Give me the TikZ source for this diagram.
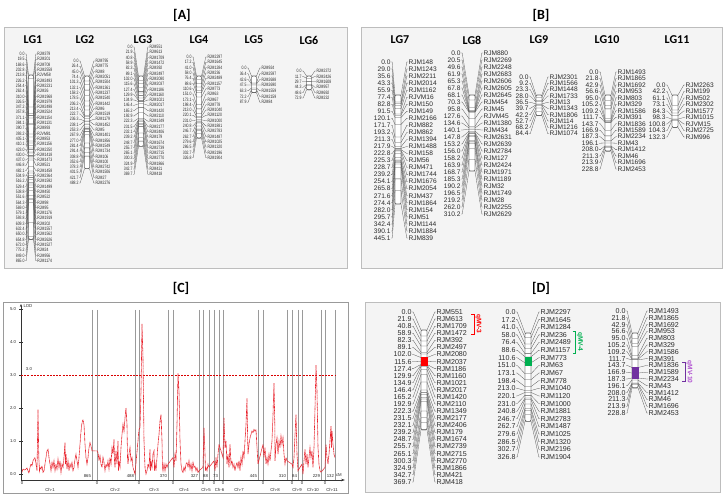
\documentclass[tikz,border=0pt]{standalone}
\usepackage{fontspec}
\setmainfont{Liberation Sans}
\newfontfamily\titlefont{Carlito}
\usetikzlibrary{arrows.meta}
\definecolor{panelbg}{HTML}{F4F4F4}
\definecolor{panelbd}{HTML}{BDBDBD}
\definecolor{fangray}{HTML}{505050}
\definecolor{bargray}{HTML}{606060}
\definecolor{labcol}{HTML}{2A2A2A}
\definecolor{lodred}{HTML}{E8202A}
\definecolor{sepgray}{HTML}{9A9A9A}
\definecolor{qtlred}{HTML}{FF0000}
\definecolor{qtlgreen}{HTML}{00B050}
\definecolor{qtlpurple}{HTML}{7030A0}
\definecolor{qtlpurpletxt}{HTML}{B050D0}
\tikzset{
  panel/.style={draw=panelbd, fill=panelbg, line width=0.8pt},
  ptitle/.style={font=\titlefont\bfseries\fontsize{14}{16}\selectfont, inner sep=0pt},
  lgtitle/.style={font=\titlefont\bfseries\fontsize{12}{14}\selectfont, inner sep=0pt},
  lab/.style={inner sep=0.3pt, text=labcol},
  barbox/.style={draw=bargray, fill=white, line width=0.4pt, rounded corners=1.2pt},
  fan/.style={draw=fangray, line width=0.28pt},
  ctext/.style={inner sep=0.3pt, text=labcol, font=\fontsize{4.3}{5}\selectfont},
  sepline/.style={draw=sepgray, line width=0.6pt},
  lodcurve/.style={draw=lodred, line width=0.6pt, dash pattern=on 0.8pt off 0.4pt},
  thresh/.style={draw=red!85!black, line width=0.6pt, dash pattern=on 2pt off 1.2pt},
  axisline/.style={draw=black!80, line width=0.5pt},
  qtlbr/.style={line width=0.6pt},
  qtltxt/.style={inner sep=0pt, rotate=-90, font=\fontsize{6.5}{7}\selectfont\bfseries}
}
% #1 prefix, #2 x of number right edge, #3 bar centre, #4 marker left edge,
% #5 first row y, #6 row step, #7 bar top, #8 px per cM, #9 list macro
\newcommand\lgmap[9]{%
  \draw[barbox] (#3-\bw,#7) rectangle (#3+\bw,#7+\bmax*#8);
  \foreach \vv/\mm [count=\ii from 0] in #9 {%
    \pgfmathsetmacro\yl{#5+\ii*#6}%
    \pgfmathsetmacro\yb{#7+\vv*#8}%
    \node[lab,anchor=east] (#1n\ii) at (#2,\yl) {\labfont\labtxt{\vv}};
    \node[lab,anchor=west] (#1m\ii) at (#4,\yl) {\labfont\labtxt{\mm}};
    \draw[fan] (#1n\ii.east) -- ++(1.2,0) -- (#3-\bw,\yb) -- (#3+\bw,\yb) -- ([xshift=-1.2pt]#1m\ii.west) -- (#1m\ii.west);
  }%
  \draw[draw=bargray, line width=0.4pt, rounded corners=1.2pt] (#3-\bw,#7) rectangle (#3+\bw,#7+\bmax*#8);
}
\def\listLGi{0.0/RJM379,19.5/RJM201,168.6/RJM708,202.8/RJM2558,213.8/RJVM58,226.2/RJM2493,254.4/RJM2231,262.4/RJM26,310.0/RJM1968,326.5/RJM1979,347.2/RJM2498,357.8/RJM2524,371.1/RJM1154,384.1/RJM1131,390.7/RJM893,393.2/RJVM81,405.1/RJM853,410.1/RJM1156,423.0/RJM2250,430.0/RJM1418,437.0/RJM1473,446.8/RJM521,482.1/RJM1458,504.9/RJM2364,516.2/RJM1592,529.4/RJM1499,538.8/RJM450,551.6/RJM522,564.3/RJM98,569.0/RJM95,579.1/RJM1176,593.8/RJM1919,609.3/RJM202,632.4/RJM1557,650.0/RJM1562,654.8/RJM2626,672.0/RJM1527,775.2/RJM24,849.0/RJM956,865.0/RJM1174}
\def\listLGii{0.0/RJM795,26.4/RJM775,45.0/RJM8,74.4/RJM2051,101.3/RJM1504,132.1/RJM1361,158.2/RJM1237,178.5/RJM1540,206.2/RJM1442,213.4/RJM6,222.7/RJM1519,236.3/RJM1179,238.1/RJM1452,253.3/RJM5,267.9/RJM1401,277.0/RJM1856,281.4/RJM1549,291.4/RJM1734,308.8/RJM106,352.6/RJM100,378.3/RJM2742,401.5/RJM1506,421.7/RJM27,488.2/RJM2276}
\def\listLGiii{0.0/RJM551,21.9/RJM613,40.8/RJM1709,58.9/RJM1472,82.3/RJM392,89.1/RJM2497,102.0/RJM2080,115.6/RJM2037,127.4/RJM1186,129.9/RJM1160,134.9/RJM1021,146.4/RJM2017,165.2/RJM1420,192.9/RJM2110,222.3/RJM1349,231.5/RJM2177,232.1/RJM2406,239.2/RJM179,248.7/RJM1674,255.7/RJM2739,265.1/RJM2715,300.3/RJM2770,324.9/RJM1866,342.7/RJM421,369.7/RJM418}
\def\listLGiv{0.0/RJM2297,17.2/RJM1645,41.0/RJM1284,58.0/RJM236,76.4/RJM2489,88.6/RJM1157,110.6/RJM773,151.0/RJM63,173.1/RJM67,198.4/RJM778,213.0/RJM1040,220.1/RJM1120,231.0/RJM1000,240.8/RJM1881,246.7/RJM2783,262.7/RJM1487,279.6/RJM1025,286.5/RJM1320,302.7/RJM2196,326.8/RJM1904}
\def\listLGv{0.0/RJM924,36.4/RJM2597,42.6/RJM2688,47.5/RJM2690,63.3/RJM1559,72.2/RJM2159,87.9/RJM84}
\def\listLGvi{0.0/RJM2372,11.7/RJM2426,29.7/RJM1608,44.3/RJM957,48.6/RJM692,72.9/RJM232}
\def\listLGvii{0.0/RJM148,29.0/RJM1243,35.6/RJM2211,43.3/RJM2014,55.9/RJM1162,77.4/RJVM16,82.8/RJM150,91.5/RJM149,120.1/RJM2166,171.7/RJM882,193.2/RJM862,211.3/RJM1394,217.9/RJM1488,222.8/RJM158,225.3/RJM56,228.7/RJM471,239.2/RJM1744,254.1/RJM1676,265.8/RJM2054,271.6/RJM437,274.4/RJM1864,282.0/RJM154,295.7/RJM51,342.4/RJM1144,390.1/RJM1884,445.1/RJM839}
\def\listLGviii{0.0/RJM880,20.5/RJM2269,49.6/RJM2248,61.9/RJM2683,65.3/RJM2606,67.8/RJM2605,68.1/RJM2645,70.3/RJM454,95.8/RJM45,127.6/RJVM45,134.6/RJM1380,140.1/RJM434,147.8/RJM2631,153.2/RJM2639,156.0/RJM2784,158.2/RJM127,163.9/RJM2424,168.7/RJM1971,185.3/RJM1189,190.2/RJM32,196.5/RJM1749,219.2/RJM28,262.0/RJM2255,310.2/RJM2629}
\def\listLGix{0.0/RJM2301,9.2/RJM1566,23.3/RJM1448,28.0/RJM1733,36.5/RJM13,39.7/RJM1343,42.2/RJM1806,52.7/RJM114,68.2/RJM1216,84.4/RJM1074}
\def\listLGx{0.0/RJM1493,21.8/RJM1865,42.9/RJM1692,56.6/RJM953,95.0/RJM803,105.2/RJM329,109.2/RJM1586,111.7/RJM391,143.7/RJM1836,166.9/RJM1589,187.3/RJM2234,196.1/RJM43,208.0/RJM1412,211.3/RJM46,213.9/RJM1696,228.8/RJM2453}
\def\listLGxi{0.0/RJM2263,42.2/RJM199,61.1/RJM502,73.1/RJM2302,84.3/RJM1577,98.3/RJM1015,100.8/RJVM15,104.3/RJM2725,132.3/RJM996}
\begin{document}
\begin{tikzpicture}[x=1pt,y=-1pt]
\useasboundingbox (0,0) rectangle (724,494);
% ---------- panel A ----------
\node[ptitle] (tA) at (182,15) {[A]};
\draw[panel] (4,27) rectangle (347,268);
\node[lgtitle] (tLG1) at (33,40) {LG1};
\node[lgtitle] (tLG2) at (85,40) {LG2};
\node[lgtitle] (tLG3) at (143,40) {LG3};
\node[lgtitle] (tLG4) at (199,40) {LG4};
\node[lgtitle] (tLG5) at (254,40) {LG5};
\node[lgtitle] (tLG6) at (309,40) {LG6};
\def\labfont{\fontsize{4.8}{5}\selectfont}
\def\labtxt#1{\scalebox{0.72}[1]{#1}}
\def\bw{2.5}
\def\bmax{865}\lgmap{Ai}{25}{31}{37}{54}{5.3}{75}{0.19}{\listLGi}
\def\bmax{488.2}\lgmap{Aii}{79}{87}{95}{61}{5.3}{76}{0.19}{\listLGii}
\def\bmax{369.7}\lgmap{Aiii}{133}{141}{149}{47}{5.3}{76}{0.19}{\listLGiii}
\def\bmax{326.8}\lgmap{Aiv}{192}{199}{207}{57}{5.3}{76}{0.19}{\listLGiv}
\def\bmax{87.9}\lgmap{Av}{247}{254}{261}{68}{5.7}{76}{0.19}{\listLGv}
\def\bmax{72.9}\lgmap{Avi}{302}{309}{316}{71}{5.4}{76}{0.19}{\listLGvi}
% ---------- panel B ----------
\node[ptitle] (tB) at (541,15) {[B]};
\draw[panel] (361,27) rectangle (722,268);
\node[lgtitle] (tLG7) at (400,40) {LG7};
\node[lgtitle] (tLG8) at (472,40) {LG8};
\node[lgtitle] (tLG9) at (539,40) {LG9};
\node[lgtitle] (tLG10) at (607,40) {LG10};
\node[lgtitle] (tLG11) at (677,40) {LG11};
\def\labfont{\fontsize{6.6}{7}\selectfont}
\def\labtxt#1{#1}
\def\bw{3}
\def\bmax{445.1}\lgmap{Bvii}{391}{398}{408}{62}{7.04}{95}{0.245}{\listLGvii}
\def\bmax{310.2}\lgmap{Bviii}{461}{472}{483}{53}{7.0}{95}{0.245}{\listLGviii}
\def\bmax{84.4}\lgmap{Bix}{529}{539}{549}{77}{6.3}{95}{0.245}{\listLGix}
\def\bmax{228.8}\lgmap{Bx}{599}{608}{617}{72}{6.47}{95}{0.245}{\listLGx}
\def\bmax{132.3}\lgmap{Bxi}{666}{675}{685}{85}{6.5}{95}{0.245}{\listLGxi}
% ---------- panel C ----------
\node[ptitle] (tC) at (181,288) {[C]};
\draw[draw=sepgray, fill=white, line width=0.6pt] (3,302) rectangle (348,493);
\foreach \sx in {92,97,135,139,168,173,199,203,209,214,219,223,258,263,287,292,298,302,321,325,335}
  \draw[sepline] (\sx,310) -- (\sx,480);
\draw[axisline,-{Stealth[length=3pt,width=2.4pt]}] (21,480) -- (21,304);
\draw[axisline,-{Stealth[length=4pt,width=2.6pt]}] (21,480) -- (345,480);
\node[ctext,anchor=west] (lodlab) at (23,306) {LOD};
\node[ctext,anchor=west] (cmlab) at (335.5,475.5) {cM};
\begin{scope}[shift={(0,474)}, y=33pt]
  \foreach \t in {0,...,5} {
    \draw[axisline] (19,\t) -- (23,\t);
    \node[ctext,anchor=east] (ytick\t) at (16.5,\t) {\t.0};
  }
  \draw[thresh] (21,3) -- (335,3);
  \node[ctext,anchor=west] (thlab) at (25.5,3.17) {3.0};
  \draw[lodcurve] plot coordinates {(22,0.05) (23,0.15) (25,0.12) (27,0.18) (28,0.1) (29,0.02) (30,0.2) (31,0.3) (32,0.25) (33,0.4) (34,0.45) (35,0.5) (36,0.3) (37,0.1) (38,1.95) (38.8,0.5) (39.5,0.1) (40,0.2) (41,0.15) (42,0.25) (43,0.05) (44,0.1) (45,0.3) (46,0.5) (47,0.7) (48,0.75) (49,0.5) (50,0.3) (51,0.1) (52,0.35) (53,0.2) (54,0.4) (55,0.1) (56,0.3) (57,0.15) (58,0.45) (59,0.2) (60,0.4) (61,0.05) (62,0.3) (63,0.2) (64,0.5) (65,0.95) (65.5,0.3) (66,0.6) (67,0.15) (68,0.4) (69,0.1) (70,0.3) (71,0.2) (72,0.35) (73,0.1) (74,0.2) (75,0.45) (76,0.6) (77,0.4) (78,0.2) (79,0.5) (80,0.9) (81,1.3) (82,1.55) (83,1.65) (84,1.5) (85,0.9) (86,0.5) (87,0.3) (88,0.5) (89,0.8) (90,0.95) (91,0.85) (92,0.7)
  (97,0.7) (98,0.65) (99,0.4) (100,0.55) (101,0.3) (102,0.2) (103,0.5) (104,0.35) (105,0.1) (106,0.3) (107,0.2) (108,0.4) (109,0.15) (110,0.5) (111,0.3) (112,0.8) (113,0.6) (114,1.05) (114.5,0.4) (115,0.2) (116,0.7) (117,0.3) (118,1.0) (118.5,0.1) (119,0.4) (120,0.2) (121,0.8) (122,1.2) (123,1.5) (124,1.3) (125,1.7) (126,2.0) (127,1.5) (127.5,0.5) (128,0.3) (129,0.6) (130,0.8) (131,0.4) (132,0.5) (133,0.2) (134,0.1) (135,0.0)
  (139,1.35) (140,1.4) (141,2.5) (142,4.55) (143,3.5) (144,1.0) (145,0.2) (146,0.0) (147,0.1) (148,0.3) (149,0.2) (150,0.75) (150.5,0.1) (151,0.4) (152,0.2) (153,0.6) (154,0.7) (154.5,0.1) (155,0.35) (156,0.1) (157,0.5) (158,0.9) (159,1.2) (160,1.6) (161,1.8) (162,1.0) (162.5,0.2) (163,0.1) (164,0.3) (165,0.1) (166,0.3) (167,0.2) (168,0.3)
  (173,0.5) (174,0.2) (175,0.6) (176,0.4) (177,1.5) (178,3.05) (179,2.5) (180,1.0) (181,0.3) (182,0.1) (183,0.05) (184,0.2) (185,0.1) (186,0.3) (187,0.35) (188,0.2) (189,0.4) (190,0.15) (191,0.3) (192,0.1) (193,0.35) (194,0.2) (195,0.25) (196,0.1) (197,0.2) (198,0.05) (199,0.1)
  (203,0.2) (203.5,0.8) (204,1.4) (205,0.6) (205.5,0.1) (206,0.2) (207,0.1) (208,0.3) (209,0.2)
  (214,0.4) (215,0.1) (216,0.5) (217,0.2) (218,0.6) (219,0.9)
  (223,0.5) (224,1.7) (225,0.8) (226,1.0) (227,0.3) (228,0.6) (229,0.2) (230,0.9) (231,0.3) (232,0.4) (233,0.2) (234,0.3) (235,0.1) (236,0.25) (237,0.35) (238,0.2) (239,0.4) (240,0.1) (241,0.5) (242,0.3) (243,0.7) (244,0.5) (245,1.0) (246,1.5) (247,2.3) (247.7,1.0) (248,0.6) (249,0.9) (250,1.1) (251,1.2) (252,1.3) (253,1.25) (254,1.35) (255,1.3) (256,1.35) (257,0.8) (258,0.3)
  (263,0.9) (264,0.5) (265,0.8) (266,0.3) (267,0.5) (268,0.3) (269,0.6) (270,0.4) (271,0.7) (272,1.0) (273,1.8) (274,2.75) (274.8,1.5) (275,0.4) (276,0.9) (277,1.1) (278,0.6) (279,1.0) (280,0.8) (281,1.15) (282,0.9) (283,1.1) (284,0.6) (285,0.3) (286,0.5) (287,0.4)
  (292,0.3) (293,0.2) (294,0.5) (295,1.2) (296,1.8) (297,0.6) (298,0.1)
  (302,0.3) (303,0.0) (304,0.4) (305,0.75) (306,0.3) (307,0.6) (308,0.2) (309,0.5) (310,0.8) (311,0.5) (312,0.7) (313,0.2) (314,0.8) (315,2.0) (316,3.3) (317,2.5) (318,0.8) (319,0.3) (320,0.1) (321,0.05)
  (325,0.2) (326,0.9) (327,0.5) (328,0.3) (329,0.6) (330,1.0) (331,1.45) (331.5,0.8) (332,1.3) (333,0.9) (334,0.6) (335,0.5)};
\end{scope}
\foreach \ex/\el in {91.5/865,134.5/488,167.5/370,198.5/327,208.5/88,218.5/73,257.5/445,286.5/310,297.5/84,320.5/229,334.5/132}
  \node[ctext,anchor=east] (end\el) at (\ex,476) {\el};
\foreach \zx [count=\zi] in {22,97,139,173,203,214,223,263,292,302,325}
  \node[ctext] (zero\zi) at (\zx,483.5) {0};
\foreach \cx/\cl in {50/1,115/2,154/3,184/4,206/5,219.5/6,239/7,275/8,297/9,313/10,332/11}
  \node[ctext] (ch\cl) at (\cx,489.5) {Ch-\cl};
% ---------- panel D ----------
\node[ptitle] (tD) at (541,288) {[D]};
\draw[panel] (365,302) rectangle (720,492);
\def\labfont{\fontsize{7.1}{8}\selectfont}
\def\labtxt#1{#1}
\def\bw{3}
\def\bmax{369.7}\lgmap{Diii}{412}{424}{436}{312}{7.08}{330}{0.27}{\listLGiii}
\def\bmax{326.8}\lgmap{Div}{516}{528}{540}{312}{7.63}{333}{0.27}{\listLGiv}
\def\bmax{228.8}\lgmap{Dx}{626}{635}{648}{311}{6.8}{333}{0.24}{\listLGx}
\fill[qtlred] (420.5,357) rectangle (427.5,366);
\fill[qtlgreen] (524.5,357) rectangle (531.5,366);
\fill[qtlpurple] (631.5,367.5) rectangle (638.5,379);
\draw[qtlbr,draw=qtlred] (471,314.5) -- (474,314.5) -- (474,334) -- (471,334);
\node[qtltxt,text=qtlred] (q3) at (478.5,324) {qMV-3};
\draw[qtlbr,draw=qtlgreen] (572.5,331.5) -- (575.5,331.5) -- (575.5,353) -- (572.5,353);
\node[qtltxt,text=qtlgreen] (q4) at (580,342) {qMV-4};
\draw[qtlbr,draw=qtlpurple] (682,362) -- (685,362) -- (685,381.5) -- (682,381.5);
\node[qtltxt,text=qtlpurpletxt] (q10) at (689.5,372) {qMV-10};
\end{tikzpicture}
\end{document}
